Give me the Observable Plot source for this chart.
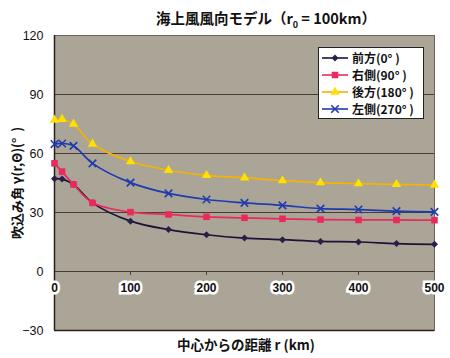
<!DOCTYPE html>
<html>
<head>
<meta charset="utf-8">
<script src="https://cdn.jsdelivr.net/npm/d3@7"></script>
<script src="https://cdn.jsdelivr.net/npm/@observablehq/plot@0.6"></script>
<style>
  body { margin: 0; background: #fff; font-family: "Liberation Sans", "Noto Sans CJK JP", sans-serif; }
  #wrap { position: relative; width: 450px; height: 358px; overflow: hidden; }
  #title { position: absolute; left: 0; top: 7px; width: 450px; padding-left: 82px; box-sizing: border-box; text-align: center; font: bold 14.5px "Noto Sans CJK JP", sans-serif; color: #111; white-space: nowrap; }
  #title sub { font-size: 9px; }
  #chart { position: absolute; left: 0; top: 30px; }
  #xlabel { position: absolute; left: 0; top: 334px; width: 450px; padding-left: 42px; box-sizing: border-box; text-align: center; font: bold 13.5px "Noto Sans CJK JP", sans-serif; color: #111; white-space: nowrap; }
  #legend { position: absolute; left: 318px; top: 47px; width: 106px; background: #fff; border: 1px solid #222; padding: 1px 0 1px 2px; box-sizing: border-box; }
  .row { display: flex; align-items: center; height: 17px; line-height: 15px; font: bold 12px/15px "Noto Sans CJK JP", sans-serif; color: #111; white-space: nowrap; }
  .row span { line-height: 15px; }
  .row svg { margin-right: 3px; flex: none; }
</style>
</head>
<body>
<div id="wrap">
  <div id="title">海上風風向モデル（r<sub>0</sub> = 100km）</div>
  <div id="chart"></div>
  <div id="xlabel">中心からの距離 r (km)</div>
  <div id="legend"></div>
</div>
<script>
const distances = [0, 10, 25, 50, 100, 150, 200, 250, 300, 350, 400, 450, 500];
const front0   = [47.2, 47.0, 44.3, 34.9, 25.6, 21.3, 18.7, 17.0, 16.2, 15.3, 15.0, 14.2, 13.8];
const right90  = [55.0, 50.8, 44.3, 34.9, 30.2, 29.0, 27.8, 27.3, 26.8, 26.4, 26.2, 26.2, 26.1];
const back180  = [77.0, 77.4, 75.0, 64.8, 55.9, 51.5, 48.9, 47.7, 46.2, 45.2, 44.7, 44.3, 44.0];
const left270  = [64.8, 65.1, 63.9, 55.0, 45.2, 39.7, 36.6, 34.9, 33.6, 32.0, 31.5, 30.7, 30.3];
const seriesNames = ["前方(0° )", "右側(90° )", "後方(180° )", "左側(270° )"];
const xTicks = [0, 100, 200, 300, 400, 500];
const yTicks = [-30, 0, 30, 60, 90, 120];

const seriesStyle = [
  {line: "#1c1236", fill: "#2a1f4a", symbol: "square", rotate: 45, r: 2.8, stroke: "none", sw: 0},
  {line: "#ea2a5c", fill: "#ea2a5c", symbol: "square", rotate: 0, r: 3.7, stroke: "none", sw: 0},
  {line: "#f2b400", fill: "#ffe000", symbol: "triangle", rotate: 0, r: 3.5, stroke: "none", sw: 0},
  {line: "#1f3caf", fill: "none", symbol: "times", rotate: 0, r: 3.5, stroke: "#1f3caf", sw: 1.6}
];
const seriesValues = [front0, right90, back180, left270];

const data = seriesValues.flatMap((vals, i) =>
  distances.map((d, j) => ({r: d, v: vals[j], s: seriesNames[i], i})));

const marks = [
  Plot.frame({fill: "#aba598"}),
  Plot.ruleY(yTicks, {stroke: "#4a3c34", strokeWidth: 1}),
  Plot.ruleX(xTicks.slice(1), {y1: 0, y2: -2, stroke: "#4a3c34"}),
  Plot.frame({stroke: "#6b6258", strokeWidth: 1}),
  Plot.ruleX([0], {stroke: "#2a1f1a", strokeWidth: 1.5}),
  Plot.ruleY([-30], {stroke: "#2a1f1a", strokeWidth: 1.5}),
];
seriesValues.forEach((vals, i) => {
  const st = seriesStyle[i];
  const d = data.filter(e => e.i === i);
  marks.push(Plot.line(d, {x: "r", y: "v", stroke: st.line, strokeWidth: 1.7, curve: "catmull-rom"}));
});
seriesValues.forEach((vals, i) => {
  const st = seriesStyle[i];
  const d = data.filter(e => e.i === i);
  marks.push(Plot.dot(d, {x: "r", y: "v", symbol: () => st.symbol, r: st.r, rotate: st.rotate,
    fill: st.fill, stroke: st.stroke, strokeWidth: st.sw}));
});
marks.push(Plot.text(xTicks, {x: d => d, y: 0, dy: 17, text: d => String(d),
  fill: "#111", stroke: "white", strokeWidth: 5, strokeLinejoin: "miter",
  fontSize: 12, fontWeight: "bold", paintOrder: "stroke"}));

const chart = Plot.plot({
  width: 450,
  height: 305,
  marginLeft: 54,
  marginRight: 16,
  marginTop: 5,
  marginBottom: 5,
  style: {fontFamily: "'Liberation Sans', 'Noto Sans CJK JP', sans-serif", fontSize: "12px", color: "#111", background: "transparent", overflow: "visible"},
  x: {domain: [0, 500], axis: null},
  y: {domain: [-30, 120], ticks: yTicks, tickSize: 0, tickPadding: 11, tickFormat: d => d < 0 ? "−" + Math.abs(d) : String(d),
      label: "吹込み角 γ(r,Θ)(°  )", labelAnchor: "center", labelArrow: "none", labelOffset: 42},
  symbol: {type: "identity"},
  marks
});
d3.select(chart).selectAll("g[aria-label='y-axis tick label'] text").style("font-weight", "normal").style("font-size", "12.5px");
d3.select(chart).selectAll("g[aria-label='y-axis label'] text").style("font-family", "'Noto Sans CJK JP', sans-serif").style("font-size", "13px").style("font-weight", "bold").style("white-space", "pre");
document.getElementById("chart").appendChild(chart);

const legend = document.getElementById("legend");
seriesNames.forEach((name, i) => {
  const st = seriesStyle[i];
  const row = document.createElement("div");
  row.className = "row";
  const ns = "http://www.w3.org/2000/svg";
  const svg = document.createElementNS(ns, "svg");
  svg.setAttribute("width", 28); svg.setAttribute("height", 12);
  const ln = document.createElementNS(ns, "line");
  ln.setAttribute("x1", 1); ln.setAttribute("x2", 27); ln.setAttribute("y1", 6); ln.setAttribute("y2", 6);
  ln.setAttribute("stroke", st.line); ln.setAttribute("stroke-width", 1.6);
  svg.appendChild(ln);
  const p = document.createElementNS(ns, "path");
  const sym = {square: d3.symbolSquare, triangle: d3.symbolTriangle, times: d3.symbolTimes}[st.symbol];
  p.setAttribute("d", d3.symbol(sym, st.r * st.r * Math.PI)());
  p.setAttribute("transform", `translate(14,6) rotate(${st.rotate})`);
  p.setAttribute("fill", st.fill); p.setAttribute("stroke", st.stroke); p.setAttribute("stroke-width", st.sw);
  svg.appendChild(p);
  row.appendChild(svg);
  const t = document.createElement("span");
  t.textContent = name;
  row.appendChild(t);
  legend.appendChild(row);
});
</script>
</body>
</html>
